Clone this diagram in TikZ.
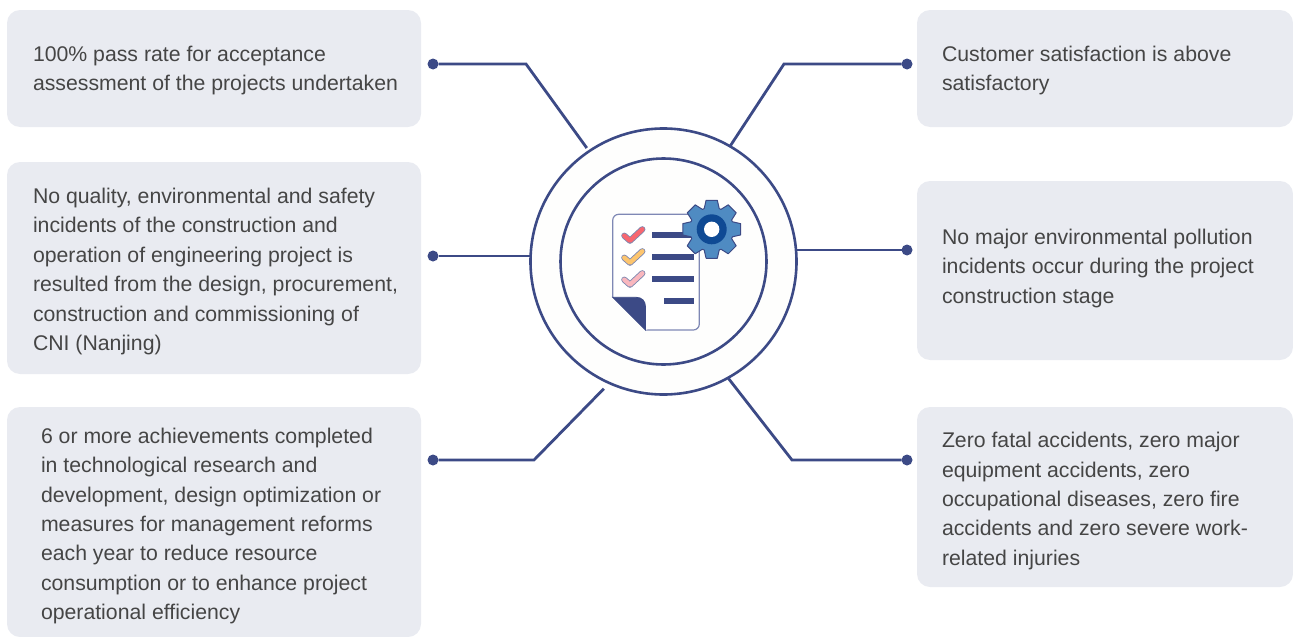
\documentclass[tikz,border=0pt]{standalone}
\usepackage{fontspec}
\setmainfont{Liberation Sans}
\usetikzlibrary{
  calc,
  positioning
}
\definecolor{navy}{HTML}{3C4A86}
\definecolor{panel grey}{HTML}{E9EBF1}
\definecolor{caption grey}{HTML}{454545}
\definecolor{sheet edge}{HTML}{7F88B5}
\definecolor{ring fill}{HTML}{FEFEFD}
\definecolor{gear blue}{HTML}{4F8BC2}
\definecolor{gear core}{HTML}{0F4A94}
\definecolor{tick red}{HTML}{F8666F}
\definecolor{tick orange}{HTML}{FDC56E}
\definecolor{tick pink}{HTML}{F9B7BE}
\tikzset{
  % For grey text panels.
  panel/.style={
    fill=panel grey,
    rounded corners=13pt,
    inner sep=0pt,
    outer sep=0pt,
    anchor=north west},
%
  % For the texts on the panels.
  caption/.style={
    anchor=west,
    align=left,
    inner sep=0pt,
    outer sep=0pt,
    text=caption grey,
    font=\fontsize{21.25pt}{29.4pt}\selectfont},
%
  % For fat dots at the free ends of the connectors.
  dot/.style={
    minimum size=11pt,
    circle,
    inner sep=0pt,
    outer sep=0pt,
    fill=navy},
%
  % For connectors.
  link/.style={
    line width=2.8pt,
    line join=miter,
    draw=navy},
%
  % For the two rings in the middle.
  ring/.style={
    circle,
    draw=navy,
    line width=2.6pt,
    fill=ring fill,
    inner sep=0pt,
    outer sep=0pt},
%
  % For the bars on the sheet.
  bar/.style={
    fill=navy},
%
  % For check marks, drawn twice.
  tick edge/.style={
    line width=6.2pt,
    line cap=round,
    line join=round,
    draw=navy!65},
  tick core/.style={
    line width=4.4pt,
    line cap=round,
    line join=round}
}

\begin{document}
\begin{tikzpicture}[x=1pt,y=-1pt]
  \useasboundingbox (0,0) rectangle (1293,637);

  % Panels on the left.
  \node[panel, minimum width=414pt, minimum height=117pt] (pass panel) at (7,10) {};
  \node[caption] (pass text) at (33,70.5) {100\% pass rate for acceptance\\assessment of the projects undertaken};

  \node[panel, minimum width=414pt, minimum height=212pt] (quality panel) at (7,162) {};
  \node[caption] (quality text) at (33,271.5) {No quality, environmental and safety\\incidents of the construction and\\operation of engineering project is\\resulted from the design, procurement,\\construction and commissioning of\\CNI (Nanjing)};

  \node[panel, minimum width=414pt, minimum height=230pt] (reform panel) at (7,407) {};
  \node[caption] (reform text) at (41,526) {6 or more achievements completed\\in technological research and\\development, design optimization or\\measures for management reforms\\each year to reduce resource\\consumption or to enhance project\\operational efficiency};

  % Panels on the right.
  \node[panel, minimum width=376pt, minimum height=117pt] (customer panel) at (917,10) {};
  \node[caption] (customer text) at (942,70.5) {Customer satisfaction is above\\satisfactory};

  \node[panel, minimum width=376pt, minimum height=179pt] (pollution panel) at (917,181) {};
  \node[caption] (pollution text) at (942,268.5) {No major environmental pollution\\incidents occur during the project\\construction stage};

  \node[panel, minimum width=376pt, minimum height=180pt] (accident panel) at (917,407) {};
  \node[caption] (accident text) at (942,501) {Zero fatal accidents, zero major\\equipment accidents, zero\\occupational diseases, zero fire\\accidents and zero severe work-\\related injuries};

  % Rings.
  \node[ring, minimum size=266pt] (outer ring) at (663.5,261.5) {};
  \node[ring, minimum size=206pt] (inner ring) at (663.5,261.5) {};

  % Connectors.
  \node[dot] (pass dot) at (433,64) {};
  \coordinate (pass bend) at (526,64);
  \draw[link, shorten >=4pt] (pass dot) -- (pass bend) -- (outer ring.124.5);

  \node[dot] (quality dot) at (433,256) {};
  \draw[link] (quality dot) -- (outer ring.west |- quality dot);

  \node[dot] (reform dot) at (433,460) {};
  \coordinate (reform bend) at (534,460);
  \draw[link, shorten >=8pt] (reform dot) -- (reform bend) -- (outer ring.246.5);

  \node[dot] (customer dot) at (907,64) {};
  \coordinate (customer bend) at (784,64);
  \draw[link] (customer dot) -- (customer bend) -- (outer ring.60.6);

  \node[dot] (pollution dot) at (907,250) {};
  \draw[link] (pollution dot) -- (outer ring.east |- pollution dot);

  \node[dot] (accident dot) at (907,460) {};
  \coordinate (accident bend) at (792,460);
  \draw[link] (accident dot) -- (accident bend) -- (outer ring.-61.6);

  % Sheet with its folded corner.
  \draw[draw=sheet edge, fill=white, line width=1.2pt, rounded corners=6pt]
    (612.7,297.3) -- (612.7,214.3) -- (699.3,214.3) -- (699.3,330) -- (645.5,330);
  \fill[white] (612.7,297.3) -- (645.5,330) -- (650,328) -- (650,297.3) -- cycle;
  \draw[navy, fill=navy, line width=0.8pt]
    (612.7,297.3) -- (636,297.3) .. controls (642,297.3) and (645.5,301) .. (645.5,307)
    -- (645.5,330) -- cycle;

  % Bars.
  \fill[bar] (651.7,231.7) rectangle (694,238.3);
  \fill[bar] (651.7,253.7) rectangle (694,260.3);
  \fill[bar] (651.7,275.7) rectangle (694,282.3);
  \fill[bar] (664,297.7) rectangle (694,304.3);

  % Check marks.
  \foreach \offset/\tint in {0/tick red, 22/tick orange, 44/tick pink} {
    \draw[tick edge] (624.3,235.7+\offset) -- (630,240.7+\offset) -- (642.3,229.3+\offset);
    \draw[tick core, draw=\tint] (624.3,235.7+\offset) -- (630,240.7+\offset) -- (642.3,229.3+\offset);
  }

  % Gear.
  \coordinate (gear centre) at (711.7,229.3);
  \draw[fill=gear blue, draw=navy, line width=1pt, line join=round, shift={(gear centre)}]
    (-20:22) \foreach \angle in {0,45,...,315} {
      -- (\angle-20:22) -- (\angle-11:29.5) -- (\angle+11:29.5) -- (\angle+20:22)
    } -- cycle;
  \fill[gear core] (gear centre) circle (15);
  \fill[white] (gear centre) circle (7.7);
\end{tikzpicture}
\end{document}
